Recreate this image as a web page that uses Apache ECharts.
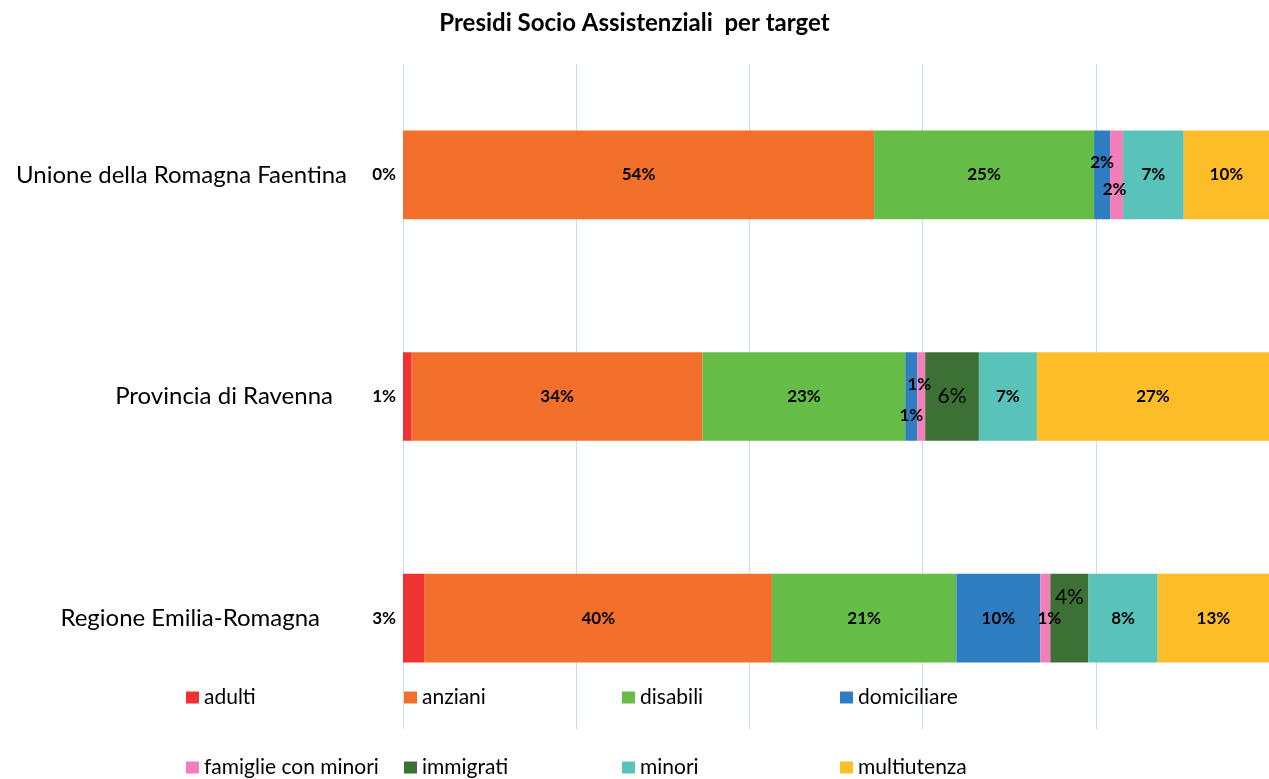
<!DOCTYPE html>
<html>
<head>
<meta charset="utf-8">
<script src="https://cdn.jsdelivr.net/npm/echarts@6/dist/echarts.min.js"></script>
<style>
html,body{margin:0;padding:0;background:#fff;}
#chart{width:1269px;height:779px;}
</style>
</head>
<body>
<div id="chart"></div>
<script>
var titleText = 'Presidi Socio Assistenziali  per target';
var categories = ['Unione della Romagna Faentina', 'Provincia di Ravenna', 'Regione Emilia-Romagna'];
var seriesNames = ['adulti', 'anziani', 'disabili', 'domiciliare', 'famiglie con minori', 'immigrati', 'minori', 'multiutenza'];
var adulti = [0, 1.0, 2.5];
var anziani = [54.4, 33.6, 40.1];
var disabili = [25.4, 23.4, 21.3];
var domiciliare = [1.85, 1.4, 9.7];
var famiglie = [1.5, 0.9, 1.15];
var immigrati = [0, 6.2, 4.4];
var minori = [7.0, 6.7, 8.0];
var multiutenza = [9.85, 26.8, 12.85];
var seriesValues = [adulti, anziani, disabili, domiciliare, famiglie, immigrati, minori, multiutenza];

var colors = ['#EF3232', '#F2702C', '#65BD47', '#2F7EC2', '#F27FB7', '#3D7035', '#59C2B9', '#FDBD28'];
var FONT = 'Lato';

// per-point label shifts (style only): [dx, dy] by series name and category index
var labelShift = {
  'domiciliare': [[0, -12], [0, 19], [0, 0]],
  'famiglie con minori': [[-2, 15], [-2, -12], [4, 0]],
  'immigrati': [[0, 0], [0, 0], [0, -21]]
};
var regularLabel = {'immigrati': true};

var series = seriesNames.map(function (name, si) {
  var shifts = labelShift[name];
  return {
    name: name,
    type: 'bar',
    stack: 'total',
    barWidth: '40%',
    itemStyle: {color: colors[si]},
    label: {
      show: true,
      position: si === 0 ? 'left' : 'inside',
      distance: 7,
      color: '#000',
      fontFamily: FONT,
      fontWeight: regularLabel[name] ? 'normal' : 'bold',
      fontSize: regularLabel[name] ? 21 : 17,
      formatter: function (p) {
        if (name === 'immigrati' && p.value === 0) return '';
        return Math.round(p.value) + '%';
      }
    },
    labelLayout: shifts ? function (params) {
      var s = shifts[params.dataIndex] || [0, 0];
      return {dx: s[0], dy: s[1], hideOverlap: false};
    } : {hideOverlap: false},
    data: seriesValues[si]
  };
});

var legendLefts = [186, 404, 622, 840];
var legendTops = [687, 757];
var legends = seriesNames.map(function (name, i) {
  return {
    data: [name],
    left: legendLefts[i % 4],
    top: legendTops[Math.floor(i / 4)],
    orient: 'horizontal',
    icon: 'rect',
    itemWidth: 13,
    itemHeight: 12,
    padding: 0,
    selectedMode: false,
    textStyle: {fontFamily: FONT, fontSize: 21, color: '#000'}
  };
});

var chart = echarts.init(document.getElementById('chart'), null, {renderer: 'canvas'});
chart.setOption({
  animation: false,
  backgroundColor: '#fff',
  title: {
    text: titleText,
    left: 'center',
    top: 6,
    textStyle: {fontFamily: FONT, fontWeight: 'bold', fontSize: 24, color: '#000'}
  },
  legend: legends,
  grid: {left: 403, right: 0, top: 64, bottom: 50, containLabel: false},
  xAxis: {
    type: 'value',
    min: 0,
    max: 100,
    interval: 20,
    axisLabel: {show: false},
    axisLine: {show: false},
    axisTick: {show: false},
    splitLine: {show: true, lineStyle: {color: '#C9DCEF', width: 1}}
  },
  yAxis: {
    type: 'category',
    inverse: true,
    data: categories,
    axisLine: {show: false},
    axisTick: {show: false},
    axisLabel: {
      margin: 56,
      fontFamily: FONT,
      fontSize: 24,
      color: '#000',
      formatter: function (v, i) {
        return '{c' + i + '|' + v + '}';
      },
      rich: {
        c0: {fontFamily: FONT, fontSize: 24, color: '#000', padding: [0, 0, 0, 0]},
        c1: {fontFamily: FONT, fontSize: 24, color: '#000', padding: [0, 14, 0, 0]},
        c2: {fontFamily: FONT, fontSize: 24, color: '#000', padding: [0, 27, 0, 0]}
      }
    }
  },
  series: series
});
</script>
</body>
</html>
